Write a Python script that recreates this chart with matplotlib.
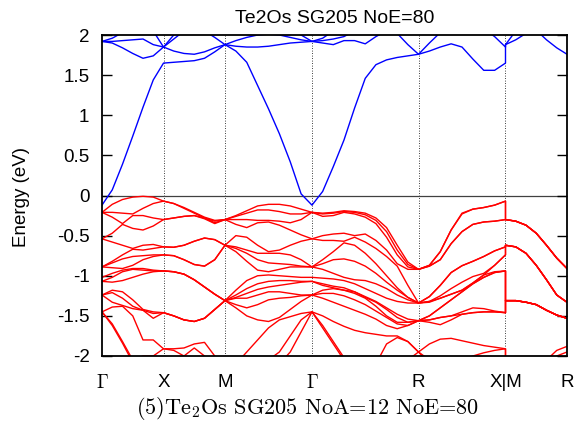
import numpy as np
import matplotlib
matplotlib.use("Agg")
import matplotlib.pyplot as plt

plt.rcParams['font.family'] = ['Liberation Sans', 'DejaVu Sans']
plt.rcParams['mathtext.fontset'] = 'cm'
plt.rcParams['axes.unicode_minus'] = False

# path segments (length in 2pi/a)
seg_names = ["G-X", "X-M", "M-G", "G-R", "R-X", "M-R"]
seg_lengths = [0.5, 0.5, np.sqrt(2) / 2, np.sqrt(3) / 2, np.sqrt(2) / 2, 0.5]
tick_labels = [r'$\Gamma$', 'X', 'M', r'$\Gamma$', 'R', 'X|M', 'R']

# valence bands, energies (eV) read at evenly spaced points of each segment
gx_valence = [
    [-0.21, -0.11, -0.05, -0.02, -0.01, -0.02, -0.07],
    [-0.21, -0.21, -0.22, -0.23, -0.25, -0.28, -0.30],
    [-0.21, -0.27, -0.35, -0.41, -0.43, -0.38, -0.30],
    [-0.54, -0.47, -0.36, -0.25, -0.16, -0.10, -0.07],
    [-0.54, -0.58, -0.62, -0.66, -0.68, -0.66, -0.64],
    [-2.70, -2.60, -2.50, -2.40, -2.35, -2.30, -2.25],
    [-0.89, -0.82, -0.74, -0.67, -0.62, -0.61, -0.64],
    [-0.89, -0.84, -0.79, -0.76, -0.75, -0.74, -0.74],
    [-0.89, -0.90, -0.91, -0.92, -0.93, -0.94, -0.94],
    [-1.02, -0.97, -0.93, -0.91, -0.91, -0.93, -0.94],
    [-1.07, -1.02, -0.95, -0.87, -0.80, -0.76, -0.74],
    [-1.07, -1.08, -1.06, -1.02, -0.98, -0.95, -0.94],
    [-1.24, -1.18, -1.20, -1.30, -1.42, -1.53, -1.46],
    [-1.24, -1.33, -1.38, -1.41, -1.43, -1.45, -1.46],
    [-1.24, -1.21, -1.28, -1.50, -1.80, -2.10, -2.30],
    [-1.45, -1.39, -1.37, -1.38, -1.43, -1.47, -1.46],
    [-1.45, -1.62, -1.84, -2.08, -2.30, -2.40, -2.40],
    [-1.45, -1.60, -1.82, -2.05, -2.25, -2.35, -2.40],
    [-2.50, -2.40, -2.30, -2.20, -2.00, -1.80, -1.91],
    [-2.60, -2.50, -2.40, -2.30, -2.15, -2.00, -1.91],
]
xm_valence = [
    [-0.07, -0.10, -0.16, -0.22, -0.28, -0.32, -0.30],
    [-0.07, -0.10, -0.15, -0.21, -0.27, -0.31, -0.30],
    [-0.30, -0.28, -0.26, -0.25, -0.28, -0.34, -0.30],
    [-0.30, -0.28, -0.26, -0.25, -0.29, -0.35, -0.30],
    [-0.64, -0.645, -0.62, -0.57, -0.53, -0.55, -0.62],
    [-0.64, -0.645, -0.62, -0.57, -0.53, -0.55, -0.62],
    [-0.74, -0.75, -0.80, -0.86, -0.88, -0.80, -0.62],
    [-0.74, -0.75, -0.80, -0.86, -0.88, -0.80, -0.62],
    [-0.94, -0.95, -0.98, -1.05, -1.14, -1.23, -1.31],
    [-0.94, -0.95, -0.98, -1.05, -1.14, -1.23, -1.31],
    [-0.94, -0.95, -0.98, -1.05, -1.14, -1.23, -1.31],
    [-1.46, -1.50, -1.55, -1.57, -1.53, -1.42, -1.31],
    [-1.46, -1.50, -1.55, -1.57, -1.53, -1.42, -1.31],
    [-1.46, -1.50, -1.55, -1.57, -1.53, -1.42, -1.31],
    [-1.91, -1.91, -1.90, -1.85, -1.83, -2.00, -2.20],
    [-1.91, -1.93, -2.00, -1.90, -2.00, -2.15, -2.20],
    [-2.25, -2.25, -2.25, -2.28, -2.30, -2.30, -2.30],
    [-2.30, -2.30, -2.30, -2.30, -2.30, -2.30, -2.30],
    [-2.40, -2.40, -2.40, -2.40, -2.40, -2.40, -2.40],
    [-2.40, -2.42, -2.45, -2.48, -2.50, -2.50, -2.50],
]
mg_valence = [
    [-0.30, -0.25, -0.19, -0.13, -0.11, -0.11, -0.13, -0.17, -0.21],
    [-0.30, -0.26, -0.22, -0.18, -0.18, -0.20, -0.23, -0.23, -0.21],
    [-0.30, -0.36, -0.40, -0.34, -0.31, -0.32, -0.34, -0.30, -0.21],
    [-0.30, -0.30, -0.30, -0.31, -0.33, -0.37, -0.43, -0.49, -0.54],
    [-0.62, -0.50, -0.52, -0.62, -0.70, -0.72, -0.74, -0.80, -0.89],
    [-0.62, -0.66, -0.72, -0.80, -0.84, -0.85, -0.86, -0.88, -0.89],
    [-0.62, -0.70, -0.82, -0.93, -0.95, -0.92, -0.89, -0.89, -0.89],
    [-0.62, -0.64, -0.68, -0.72, -0.72, -0.68, -0.62, -0.57, -0.54],
    [-1.31, -1.18, -1.06, -1.00, -0.99, -1.00, -1.01, -1.02, -1.02],
    [-1.31, -1.24, -1.16, -1.10, -1.07, -1.06, -1.06, -1.07, -1.07],
    [-1.31, -1.28, -1.22, -1.17, -1.14, -1.12, -1.10, -1.08, -1.07],
    [-1.31, -1.27, -1.28, -1.24, -1.20, -1.20, -1.22, -1.24, -1.24],
    [-1.31, -1.40, -1.50, -1.55, -1.57, -1.55, -1.51, -1.47, -1.45],
    [-1.31, -1.36, -1.40, -1.36, -1.30, -1.28, -1.27, -1.25, -1.24],
    [-2.20, -2.10, -1.95, -1.80, -1.65, -1.52, -1.42, -1.32, -1.24],
    [-2.20, -2.20, -2.20, -2.15, -2.05, -1.95, -1.75, -1.55, -1.45],
    [-2.30, -2.30, -2.28, -2.25, -2.20, -2.10, -1.95, -1.70, -1.45],
    [-2.30, -2.35, -2.40, -2.42, -2.45, -2.47, -2.48, -2.50, -2.50],
    [-2.40, -2.45, -2.50, -2.52, -2.55, -2.57, -2.58, -2.60, -2.60],
    [-2.50, -2.55, -2.60, -2.62, -2.65, -2.67, -2.68, -2.70, -2.70],
]
gr_valence = [
    [-0.21, -0.22, -0.21, -0.19, -0.20, -0.22, -0.28, -0.40, -0.62, -0.83, -0.92],
    [-0.21, -0.26, -0.25, -0.20, -0.21, -0.24, -0.31, -0.45, -0.68, -0.86, -0.92],
    [-0.21, -0.23, -0.22, -0.21, -0.23, -0.27, -0.35, -0.52, -0.74, -0.89, -0.92],
    [-0.54, -0.50, -0.48, -0.47, -0.52, -0.58, -0.66, -0.76, -0.85, -0.92, -0.92],
    [-0.54, -0.56, -0.56, -0.57, -0.62, -0.72, -0.85, -1.00, -1.15, -1.27, -1.34],
    [-0.89, -0.80, -0.70, -0.59, -0.50, -0.48, -0.56, -0.68, -0.88, -1.12, -1.34],
    [-0.89, -0.85, -0.80, -0.79, -0.82, -0.88, -0.97, -1.08, -1.18, -1.27, -1.34],
    [-0.89, -0.92, -0.97, -1.02, -1.05, -1.06, -1.10, -1.16, -1.24, -1.30, -1.34],
    [-1.02, -1.03, -1.04, -1.06, -1.10, -1.16, -1.22, -1.28, -1.32, -1.34, -1.34],
    [-1.07, -1.10, -1.13, -1.15, -1.20, -1.28, -1.38, -1.50, -1.58, -1.58, -1.56],
    [-1.07, -1.12, -1.15, -1.18, -1.22, -1.27, -1.33, -1.42, -1.52, -1.58, -1.56],
    [-1.24, -1.18, -1.16, -1.18, -1.20, -1.26, -1.32, -1.40, -1.48, -1.54, -1.56],
    [-1.24, -1.22, -1.22, -1.25, -1.30, -1.36, -1.44, -1.52, -1.60, -1.62, -1.56],
    [-1.24, -1.28, -1.33, -1.38, -1.43, -1.48, -1.54, -1.62, -1.66, -1.62, -1.56],
    [-1.45, -1.50, -1.57, -1.63, -1.68, -1.71, -1.73, -1.75, -1.77, -1.82, -1.95],
    [-1.45, -1.62, -1.82, -2.02, -2.20, -2.30, -2.35, -2.30, -2.20, -2.05, -1.95],
    [-1.45, -1.65, -1.85, -2.05, -2.25, -2.35, -2.10, -1.85, -1.75, -1.82, -1.95],
    [-2.50, -2.48, -2.45, -2.42, -2.40, -2.35, -2.32, -2.30, -2.27, -2.23, -2.20],
    [-2.60, -2.57, -2.55, -2.50, -2.47, -2.45, -2.42, -2.40, -2.35, -2.32, -2.30],
    [-2.70, -2.67, -2.63, -2.60, -2.57, -2.53, -2.50, -2.47, -2.45, -2.42, -2.40],
]
rx_valence = [
    [-0.92, -0.88, -0.70, -0.43, -0.22, -0.17, -0.15, -0.12, -0.07],
    [-0.92, -0.88, -0.70, -0.43, -0.23, -0.17, -0.15, -0.12, -0.07],
    [-0.92, -0.87, -0.80, -0.60, -0.45, -0.36, -0.33, -0.32, -0.30],
    [-0.92, -0.87, -0.80, -0.60, -0.45, -0.36, -0.33, -0.32, -0.30],
    [-1.34, -1.26, -1.12, -0.96, -0.875, -0.82, -0.76, -0.69, -0.64],
    [-1.34, -1.26, -1.12, -0.96, -0.875, -0.82, -0.76, -0.69, -0.64],
    [-1.34, -1.32, -1.28, -1.23, -1.18, -1.09, -0.99, -0.87, -0.74],
    [-1.34, -1.32, -1.28, -1.23, -1.18, -1.09, -0.99, -0.87, -0.74],
    [-1.34, -1.33, -1.25, -1.16, -1.08, -1.01, -0.97, -0.95, -0.94],
    [-1.56, -1.50, -1.40, -1.30, -1.20, -1.10, -1.02, -0.96, -0.94],
    [-1.56, -1.50, -1.40, -1.30, -1.20, -1.10, -1.02, -0.96, -0.94],
    [-1.56, -1.58, -1.61, -1.55, -1.45, -1.40, -1.41, -1.44, -1.46],
    [-1.56, -1.55, -1.52, -1.50, -1.48, -1.46, -1.45, -1.45, -1.46],
    [-1.56, -1.55, -1.52, -1.50, -1.48, -1.46, -1.45, -1.45, -1.46],
    [-1.95, -1.85, -1.79, -1.78, -1.81, -1.84, -1.87, -1.89, -1.91],
    [-1.95, -2.05, -2.10, -2.10, -2.05, -2.00, -1.96, -1.93, -1.91],
    [-1.95, -2.10, -2.20, -2.25, -2.25, -2.25, -2.25, -2.25, -2.25],
    [-2.20, -2.25, -2.28, -2.30, -2.30, -2.30, -2.30, -2.30, -2.30],
    [-2.30, -2.35, -2.38, -2.40, -2.40, -2.40, -2.40, -2.40, -2.40],
    [-2.40, -2.40, -2.40, -2.40, -2.40, -2.40, -2.40, -2.40, -2.40],
]
mr_valence = [
    [-0.30, -0.32, -0.37, -0.47, -0.62, -0.78, -0.91],
    [-0.30, -0.32, -0.37, -0.47, -0.62, -0.78, -0.91],
    [-0.30, -0.32, -0.37, -0.47, -0.62, -0.78, -0.91],
    [-0.30, -0.32, -0.37, -0.47, -0.62, -0.78, -0.91],
    [-0.62, -0.64, -0.72, -0.87, -1.05, -1.24, -1.33],
    [-0.62, -0.64, -0.72, -0.87, -1.05, -1.24, -1.33],
    [-0.62, -0.64, -0.72, -0.87, -1.05, -1.24, -1.33],
    [-0.62, -0.64, -0.72, -0.87, -1.05, -1.24, -1.33],
    [-1.31, -1.31, -1.33, -1.36, -1.43, -1.49, -1.53],
    [-1.31, -1.31, -1.33, -1.36, -1.43, -1.49, -1.53],
    [-1.31, -1.31, -1.33, -1.36, -1.43, -1.49, -1.53],
    [-1.31, -1.31, -1.33, -1.36, -1.43, -1.49, -1.53],
    [-1.31, -1.31, -1.33, -1.36, -1.43, -1.49, -1.53],
    [-1.31, -1.31, -1.33, -1.36, -1.43, -1.49, -1.53],
    [-2.20, -2.20, -2.20, -2.15, -2.05, -1.93, -1.95],
    [-2.20, -2.25, -2.25, -2.20, -2.10, -2.00, -1.88],
    [-2.30, -2.30, -2.30, -2.30, -2.25, -2.20, -2.15],
    [-2.30, -2.35, -2.35, -2.35, -2.35, -2.30, -2.30],
    [-2.40, -2.40, -2.40, -2.40, -2.40, -2.40, -2.40],
    [-2.50, -2.50, -2.50, -2.50, -2.50, -2.50, -2.50],
]

# conduction bands
gx_conduction = [
    [-0.12, 0.07, 0.39, 0.74, 1.10, 1.44, 1.65],
    [1.92, 1.90, 1.84, 1.77, 1.71, 1.74, 1.85],
    [1.92, 1.92, 1.93, 1.94, 1.95, 1.88, 1.85],
    [1.92, 1.96, 2.03, 2.12, 2.15, 2.05, 1.85],
]
xm_conduction = [
    [1.65, 1.66, 1.67, 1.68, 1.71, 1.79, 1.88],
    [1.85, 1.80, 1.77, 1.76, 1.79, 1.84, 1.88],
    [1.85, 1.95, 2.05, 2.10, 2.05, 1.97, 1.88],
    [1.85, 2.00, 2.15, 2.25, 2.30, 2.30, 2.30],
]
mg_conduction = [
    [1.88, 1.80, 1.66, 1.37, 1.08, 0.77, 0.42, 0.02, -0.12],
    [1.88, 1.86, 1.85, 1.85, 1.86, 1.88, 1.90, 1.91, 1.92],
    [1.88, 1.93, 1.97, 2.00, 2.01, 2.00, 1.97, 1.94, 1.92],
    [2.30, 2.30, 2.25, 2.20, 2.15, 2.10, 2.05, 2.00, 1.92],
]
gr_conduction = [
    [-0.12, 0.05, 0.36, 0.69, 1.09, 1.46, 1.63, 1.69, 1.72, 1.74, 1.76],
    [1.92, 1.90, 1.88, 1.93, 1.93, 1.89, 1.98, 2.05, 2.02, 1.88, 1.76],
    [1.92, 1.93, 1.95, 1.98, 2.05, 2.10, 2.15, 2.20, 2.20, 2.20, 2.20],
    [1.92, 1.96, 2.05, 2.15, 2.20, 2.25, 2.30, 2.30, 2.30, 2.30, 2.30],
]
rx_conduction = [
    [1.76, 1.80, 1.85, 1.89, 1.85, 1.70, 1.56, 1.56, 1.65],
    [1.76, 1.90, 2.03, 2.15, 2.20, 2.15, 2.08, 1.98, 1.85],
    [2.20, 2.25, 2.30, 2.30, 2.30, 2.30, 2.30, 2.30, 2.30],
    [2.30, 2.35, 2.40, 2.40, 2.40, 2.40, 2.40, 2.40, 2.40],
]
mr_conduction = [
    [1.88, 1.94, 2.02, 2.06, 1.94, 1.84, 1.76],
    [1.88, 2.05, 2.20, 2.30, 2.30, 2.20, 2.10],
    [2.30, 2.30, 2.30, 2.35, 2.35, 2.30, 2.20],
    [2.40, 2.40, 2.40, 2.40, 2.40, 2.40, 2.30],
]

valence = [gx_valence, xm_valence, mg_valence, gr_valence, rx_valence, mr_valence]
conduction = [gx_conduction, xm_conduction, mg_conduction, gr_conduction, rx_conduction, mr_conduction]

# k coordinates along the path
nodes = np.concatenate([[0], np.cumsum(seg_lengths)])
k_all = []
for i, seg in enumerate(valence):
    k_all.append(np.linspace(nodes[i], nodes[i + 1], len(seg[0])))
k_all = np.concatenate(k_all)

# band index ordering: sort energies at every k point
val_bands = np.concatenate([np.sort(np.array(s), axis=0) for s in valence], axis=1)
con_bands = np.concatenate([np.sort(np.array(s), axis=0) for s in conduction], axis=1)

fig = plt.figure(figsize=(5.78, 4.37), dpi=100)
ax = fig.add_axes([102 / 578, 1 - 356 / 437, 465 / 578, 321 / 437])

for xv in nodes[1:-1]:
    ax.axvline(xv, color='black', lw=0.6, ls=(0, (1, 2)), zorder=1)
ax.axhline(0, color='0.25', lw=0.9, zorder=1)

for band in val_bands:
    ax.plot(k_all, band, color='#ff0000', lw=1.0, zorder=2)
for band in con_bands:
    ax.plot(k_all, band, color='#0000ff', lw=1.0, zorder=2)

ax.set_xlim(nodes[0], nodes[-1])
ax.set_ylim(-2, 2)
yt = np.arange(-2, 2.01, 0.5)
ax.set_yticks(yt)
ax.set_yticklabels(['%g' % v for v in yt])
ax.set_xticks(nodes)
ax.set_xticklabels(tick_labels)
ax.tick_params(axis='y', direction='in', length=7, width=1, right=True, labelsize=13.5, pad=9)
ax.tick_params(axis='x', length=0, labelsize=13.5, pad=13)
for sp in ax.spines.values():
    sp.set_linewidth(1.3)

ax.set_title('Te2Os SG205 NoE=80', fontsize=14, pad=9)
fig.text(22 / 578, 1 - 197 / 437, 'Energy (eV)', rotation=90, ha='center', va='center', fontsize=13.5)
fig.text(308 / 578, 1 - 408 / 437, '(5)Te$_2$Os SG205 NoA=12 NoE=80', ha='center', va='center',
         fontsize=16, family='cmr10')

fig.savefig('out.png', dpi=100)
